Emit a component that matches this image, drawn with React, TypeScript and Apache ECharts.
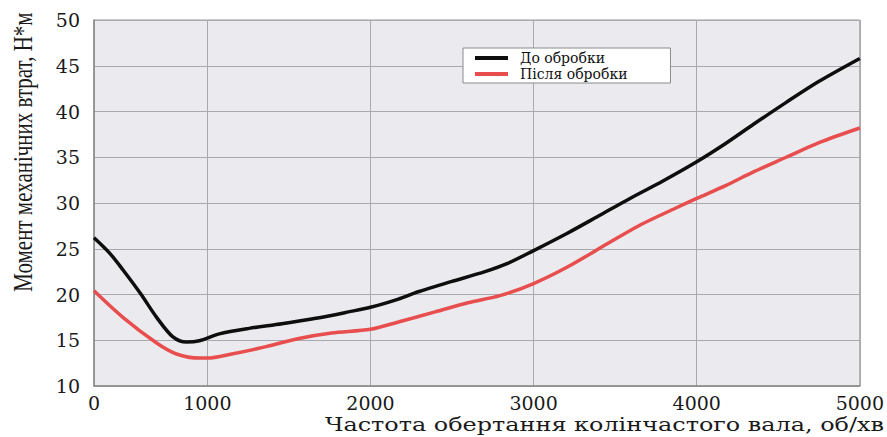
import React, { useEffect, useRef } from "react";
import * as echarts from "echarts";

const X_MIN = 305;
const X_MAX = 5000;
const xTickValues = [X_MIN, 1000, 2000, 3000, 4000, 5000];

const seriesNames = ["До обробки", "Після обробки"];

const rpmBefore = [305, 402, 482, 590, 689, 787, 872, 951, 1073, 1256, 1457, 1665, 1866, 2000, 2171, 2293, 2494, 2702, 2841, 3000, 3207, 3390, 3591, 3793, 4000, 4177, 4348, 4549, 4750, 5000];
const torqueBefore = [26.2, 24.5, 22.7, 20.1, 17.5, 15.4, 14.8, 14.95, 15.7, 16.3, 16.8, 17.4, 18.1, 18.6, 19.5, 20.3, 21.4, 22.5, 23.4, 24.8, 26.7, 28.5, 30.5, 32.4, 34.5, 36.5, 38.6, 41.0, 43.3, 45.8];

const rpmAfter = [305, 482, 689, 811, 951, 1000, 1150, 1360, 1561, 1762, 2000, 2171, 2396, 2598, 2799, 3000, 3207, 3457, 3665, 3866, 4000, 4177, 4348, 4549, 4750, 5000];
const torqueAfter = [20.4, 17.5, 14.7, 13.5, 13.05, 13.05, 13.5, 14.3, 15.2, 15.8, 16.2, 17.0, 18.1, 19.1, 19.9, 21.2, 23.0, 25.6, 27.7, 29.4, 30.5, 31.9, 33.4, 35.0, 36.6, 38.2];

const yTitle = "Момент механічних втрат, Н*м";
const xTitle = "Частота обертання колінчастого вала, об/хв";

const zip = (xs: number[], ys: number[]) => xs.map((x, i) => [x, ys[i]]);

export default function App() {
  const ref = useRef<HTMLDivElement>(null);
  useEffect(() => {
    document.body.style.margin = "0";
    if (!ref.current) return;
    const chart = echarts.init(ref.current, undefined, { renderer: "svg" });
    const tickFont = { fontFamily: "DejaVu Serif", fontSize: 19, color: "#1a1a1a" };
    chart.setOption({
      animation: false,
      backgroundColor: "#ffffff",
      grid: {
        left: 94,
        right: 23,
        top: 20,
        bottom: 51,
        show: true,
        backgroundColor: "#ebebef",
        borderColor: "#9a9a9a",
        borderWidth: 1,
      },
      legend: {
        orient: "vertical",
        left: 463,
        top: 48,
        backgroundColor: "#ffffff",
        borderColor: "#8a8a8a",
        borderWidth: 1,
        padding: [3, 43, 2, 12],
        itemGap: 2,
        itemWidth: 33,
        itemHeight: 4,
        icon: "rect",
        textStyle: {
          fontFamily: "DejaVu Serif",
          fontSize: 14,
          color: "#111",
          lineHeight: 14,
          padding: [0, 0, 0, 7],
        },
        data: seriesNames,
      },
      xAxis: {
        type: "value",
        min: X_MIN,
        max: X_MAX,
        axisLine: { show: true, lineStyle: { color: "#8a8a8a", width: 1.5 } },
        axisTick: { show: false, customValues: xTickValues },
        axisLabel: {
          ...tickFont,
          margin: 7,
          customValues: xTickValues,
          formatter: (v: number) => (v === X_MIN ? "0" : String(v)),
        },
        splitLine: { show: true, lineStyle: { color: "#a8a8ae", width: 1 } },
      },
      yAxis: {
        type: "value",
        min: 10,
        max: 50,
        interval: 5,
        axisLine: { show: true, lineStyle: { color: "#8a8a8a", width: 1.5 } },
        axisTick: { show: false },
        axisLabel: { ...tickFont, margin: 14 },
        splitLine: { show: true, lineStyle: { color: "#a8a8ae", width: 1 } },
      },
      graphic: [
        {
          type: "text",
          x: 22,
          y: 152,
          rotation: Math.PI / 2,
          scaleY: 1.3,
          style: {
            text: yTitle,
            fontFamily: "Liberation Serif",
            fontSize: 21,
            fill: "#1a1a1a",
            textAlign: "center",
            textVerticalAlign: "middle",
          },
        },
        {
          type: "text",
          x: 884,
          y: 425,
          scaleX: 1.33,
          style: {
            text: xTitle,
            fontFamily: "DejaVu Serif",
            fontSize: 18,
            fill: "#1a1a1a",
            textAlign: "right",
            textVerticalAlign: "middle",
          },
        },
      ],
      series: [
        {
          name: seriesNames[0],
          type: "line",
          data: zip(rpmBefore, torqueBefore),
          smooth: 0.3,
          showSymbol: false,
          lineStyle: { color: "#0e0e0e", width: 3.5 },
          itemStyle: { color: "#0e0e0e" },
        },
        {
          name: seriesNames[1],
          type: "line",
          data: zip(rpmAfter, torqueAfter),
          smooth: 0.3,
          showSymbol: false,
          lineStyle: { color: "#e84e4e", width: 3.5 },
          itemStyle: { color: "#e84e4e" },
        },
      ],
    });
    return () => chart.dispose();
  }, []);
  return <div ref={ref} style={{ width: 887, height: 437 }} />;
}
